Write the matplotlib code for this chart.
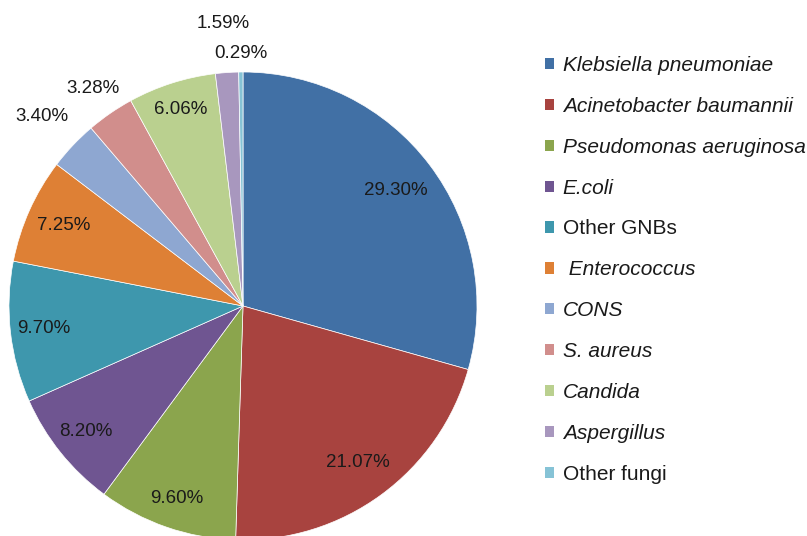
import matplotlib.pyplot as plt
from matplotlib.patches import Patch
import numpy as np

plt.rcParams['font.family'] = ['Liberation Sans', 'DejaVu Sans']

organisms = ["Klebsiella pneumoniae", "Acinetobacter baumannii", "Pseudomonas aeruginosa",
             "E.coli", "Other GNBs", " Enterococcus", "CONS", "S. aureus", "Candida",
             "Aspergillus", "Other fungi"]
percents = [29.30, 21.07, 9.60, 8.20, 9.70, 7.25, 3.40, 3.28, 6.06, 1.59, 0.29]
italic = [True, True, True, True, False, True, True, True, True, True, False]
colors = ['#4170A5', '#A8433F', '#8BA54D', '#6F5591', '#3E97AD', '#DE8035',
          '#8EA7D1', '#D18E8C', '#BAD08F', '#A897BE', '#86C3D6']
# how far out each percentage label sits (fraction of radius)
label_dist = [0.82, 0.83, 0.87, 0.86, 0.855, 0.84, 1.18, 1.13, 0.88, 1.21, 1.08]

W, H = 807, 536
cx, cy, r = 243, 306, 234

fig = plt.figure(figsize=(W/100, H/100), dpi=100)
ax = fig.add_axes([0, 0, 1, 1])
wedges, _ = ax.pie(percents, colors=colors, startangle=90, counterclock=False,
                   wedgeprops=dict(edgecolor='white', linewidth=0.5))
ax.set_xlim(-cx/r, (W-cx)/r)
ax.set_ylim(-(H-cy)/r, cy/r)
ax.set_aspect('auto')
ax.axis('off')

for w, p, d in zip(wedges, percents, label_dist):
    ang = np.deg2rad((w.theta1 + w.theta2) / 2)
    ax.text(d*np.cos(ang), d*np.sin(ang), "%.2f%%" % p, ha='center', va='center',
            fontsize=13.5, color='#1a1a1a')

handles = [Patch(facecolor=c, edgecolor='none') for c in colors]
leg = fig.legend(handles, organisms, loc='upper left', bbox_to_anchor=(545/W, 1 - 56/H),
                 frameon=False, fontsize=15, handlelength=0.45, handleheight=0.45,
                 handletextpad=0.4, labelspacing=1.05, borderpad=0, borderaxespad=0)
for t, it in zip(leg.get_texts(), italic):
    t.set_color('#1a1a1a')
    if it:
        t.set_fontstyle('italic')

plt.savefig('out.png', dpi=100)
plt.close()
